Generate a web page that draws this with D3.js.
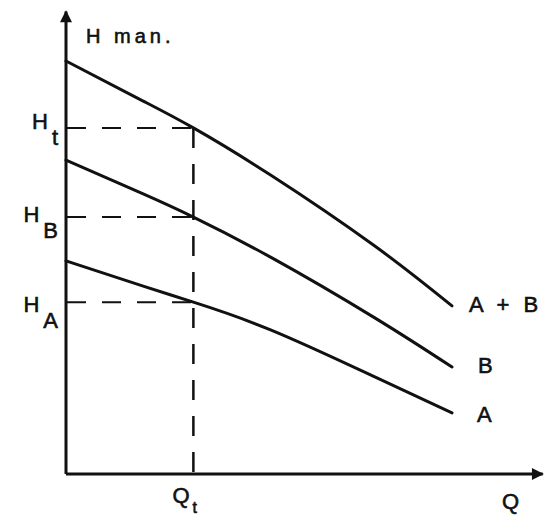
<!DOCTYPE html>
<html>
<head>
<meta charset="utf-8">
<script src="https://cdn.jsdelivr.net/npm/d3@7"></script>
<style>
body{margin:0;background:#fff;}
text{font-family:"Liberation Sans", Arial, sans-serif;fill:#111;stroke:#111;stroke-width:0.6px;}
</style>
</head>
<body>
<div id="chart"></div>
<script>
// 펌프 직렬 운전 곡선 (H-Q)
var qValues = [0, 2, 3.3, 5.3, 8, 10];
var headA = [5.16, 4.55, 4.16, 3.49, 2.35, 1.48];
var headB = [7.60, 6.78, 6.22, 5.25, 3.78, 2.59];
var headAB = [10, 9.03, 8.38, 7.24, 5.52, 4.07];
var seriesLabels = ["A", "B", "A + B"];

var qOperating = 3.3;
var refValues = [8.38, 6.22, 4.16];
var refSubs = ["t", "B", "A"];

var axisTitleY = "H man.";
var axisTitleX = "Q";
var qLabelMain = "Q", qLabelSub = "t";

var width = 544, height = 518;
var ink = "#111";

var x = d3.scaleLinear().domain([0, 10]).range([66, 452]);
var y = d3.scaleLinear().domain([0, 10]).range([474, 61]);

var svg = d3.select("#chart").append("svg")
    .attr("width", width)
    .attr("height", height);

var defs = svg.append("defs");
defs.append("marker")
    .attr("id", "arrow")
    .attr("viewBox", "0 0 10 10")
    .attr("refX", 9).attr("refY", 5)
    .attr("markerWidth", 6).attr("markerHeight", 4)
    .attr("markerUnits", "strokeWidth")
    .attr("orient", "auto")
    .append("path")
    .attr("d", "M0,0 L10,5 L0,10 z")
    .style("fill", ink);

/** 축 **/
var xAxisScale = d3.scaleLinear().domain([0, 12.35]).range([x(0), x(12.35)]);
var yAxisScale = d3.scaleLinear().domain([0, 11.2]).range([y(0), y(11.2)]);

var xAxis = svg.append("g")
    .attr("transform", "translate(0," + y(0) + ")")
    .call(d3.axisBottom(xAxisScale).tickValues([]).tickSizeOuter(0));
xAxis.select(".domain")
    .attr("stroke", ink).attr("stroke-width", 3)
    .attr("d", "M" + x(0) + ",0H" + x(12.35))
    .attr("marker-end", "url(#arrow)");

var yAxis = svg.append("g")
    .attr("transform", "translate(" + x(0) + ",0)")
    .call(d3.axisLeft(yAxisScale).tickValues([]).tickSizeOuter(0));
yAxis.select(".domain")
    .attr("stroke", ink).attr("stroke-width", 3)
    .attr("d", "M0," + y(0) + "V" + y(11.2))
    .attr("marker-end", "url(#arrow)");

/** 점선 **/
var guide = svg.append("g").attr("class", "guide");
var lineGenerator = d3.line();

guide.selectAll(".hGuide")
    .data(refValues).enter()
    .append("path")
    .attr("class", "hGuide")
    .attr("fill", "none")
    .attr("stroke", ink)
    .attr("stroke-width", 2)
    .attr("stroke-dasharray", "19,16")
    .attr("d", function(d){ return lineGenerator([[x(0) + 1, y(d)], [x(qOperating), y(d)]]); });

guide.append("path")
    .attr("class", "vGuide")
    .attr("fill", "none")
    .attr("stroke", ink)
    .attr("stroke-width", 2.5)
    .attr("stroke-dasharray", "20,16")
    .attr("d", lineGenerator([[x(qOperating), y(refValues[0])], [x(qOperating), y(0)]]));

/** 곡선 **/
var curve = d3.line()
    .x(function(d){ return x(d.q); })
    .y(function(d){ return y(d.h); })
    .curve(d3.curveNatural);

var series = [headA, headB, headAB].map(function(arr, i){
    return {name: seriesLabels[i], values: arr.map(function(h, j){ return {q: qValues[j], h: h}; })};
});

svg.selectAll(".pumpCurve")
    .data(series).enter()
    .append("path")
    .attr("class", "pumpCurve")
    .attr("fill", "none")
    .attr("stroke", ink)
    .attr("stroke-width", 3)
    .attr("stroke-linecap", "round")
    .attr("d", function(d){ return curve(d.values); });

/** 라벨 **/
var labelOffset = [[25, 9], [26, 6], [17, 6]];
svg.selectAll(".seriesLabel")
    .data(series).enter()
    .append("text")
    .attr("class", "seriesLabel")
    .attr("x", function(d, i){ var last = d.values[d.values.length - 1]; return x(last.q) + labelOffset[i][0]; })
    .attr("y", function(d, i){ var last = d.values[d.values.length - 1]; return y(last.h) + labelOffset[i][1]; })
    .style("font-size", "22px")
    .style("letter-spacing", "4px")
    .text(function(d){ return d.name; });

var refLabel = svg.selectAll(".refLabel")
    .data(refValues).enter()
    .append("text")
    .attr("class", "refLabel")
    .attr("text-anchor", "end")
    .attr("x", 58)
    .attr("y", function(d, i){ return y(d) + [1, 5, 10][i]; })
    .style("font-size", "22px");
refLabel.append("tspan").text("H");
refLabel.append("tspan")
    .attr("dx", 4)
    .attr("dy", 16)
    .text(function(d, i){ return refSubs[i]; });

var qLabel = svg.append("text")
    .attr("x", x(qOperating) - 21)
    .attr("y", 503)
    .style("font-size", "22px");
qLabel.append("tspan").text(qLabelMain);
qLabel.append("tspan").attr("dx", 3).attr("dy", 10).style("font-size", "16px").text(qLabelSub);

svg.append("text")
    .attr("x", 502)
    .attr("y", 509)
    .style("font-size", "22px")
    .text(axisTitleX);

svg.append("text")
    .attr("x", 86)
    .attr("y", 43)
    .style("font-size", "20px")
    .style("letter-spacing", "4px")
    .text(axisTitleY);
</script>
</body>
</html>
